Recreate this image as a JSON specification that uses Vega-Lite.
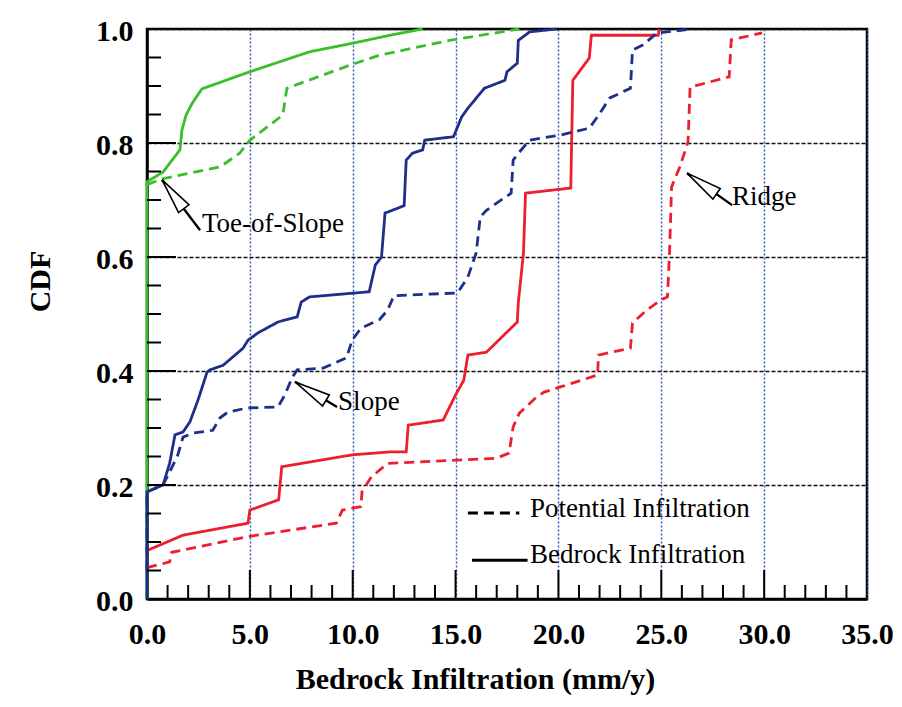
{
  "$schema": "https://vega.github.io/schema/vega-lite/v6.json",
  "width": 720,
  "height": 570,
  "autosize": {"type": "none"},
  "padding": {"left": 147, "top": 29, "right": 35, "bottom": 108},
  "background": "white",
  "config": {
    "view": {"stroke": "black", "strokeWidth": 2.5},
    "font": "Liberation Serif"
  },
  "datasets": {
    "curves": [
      {"site": "Toe-of-Slope", "type": "Bedrock", "x": 0, "y": 0},
      {"site": "Toe-of-Slope", "type": "Bedrock", "x": 0, "y": 0.732},
      {"site": "Toe-of-Slope", "type": "Bedrock", "x": 0.78, "y": 0.749},
      {"site": "Toe-of-Slope", "type": "Bedrock", "x": 1.6, "y": 0.788},
      {"site": "Toe-of-Slope", "type": "Bedrock", "x": 1.7, "y": 0.823},
      {"site": "Toe-of-Slope", "type": "Bedrock", "x": 1.9, "y": 0.849},
      {"site": "Toe-of-Slope", "type": "Bedrock", "x": 2.2, "y": 0.87},
      {"site": "Toe-of-Slope", "type": "Bedrock", "x": 2.67, "y": 0.895},
      {"site": "Toe-of-Slope", "type": "Bedrock", "x": 5.0, "y": 0.925},
      {"site": "Toe-of-Slope", "type": "Bedrock", "x": 7.9, "y": 0.96},
      {"site": "Toe-of-Slope", "type": "Bedrock", "x": 10.0, "y": 0.975},
      {"site": "Toe-of-Slope", "type": "Bedrock", "x": 11.8, "y": 0.989},
      {"site": "Toe-of-Slope", "type": "Bedrock", "x": 13.4, "y": 1.0},

      {"site": "Toe-of-Slope", "type": "Potential", "x": 0, "y": 0.727},
      {"site": "Toe-of-Slope", "type": "Potential", "x": 0.73, "y": 0.737},
      {"site": "Toe-of-Slope", "type": "Potential", "x": 3.55, "y": 0.758},
      {"site": "Toe-of-Slope", "type": "Potential", "x": 4.5, "y": 0.782},
      {"site": "Toe-of-Slope", "type": "Potential", "x": 5.0, "y": 0.805},
      {"site": "Toe-of-Slope", "type": "Potential", "x": 6.6, "y": 0.849},
      {"site": "Toe-of-Slope", "type": "Potential", "x": 6.8, "y": 0.896},
      {"site": "Toe-of-Slope", "type": "Potential", "x": 9.9, "y": 0.937},
      {"site": "Toe-of-Slope", "type": "Potential", "x": 11.3, "y": 0.954},
      {"site": "Toe-of-Slope", "type": "Potential", "x": 14.7, "y": 0.98},
      {"site": "Toe-of-Slope", "type": "Potential", "x": 18.1, "y": 1.0},

      {"site": "Ridge", "type": "Bedrock", "x": 0, "y": 0.085},
      {"site": "Ridge", "type": "Bedrock", "x": 1.75, "y": 0.112},
      {"site": "Ridge", "type": "Bedrock", "x": 4.91, "y": 0.133},
      {"site": "Ridge", "type": "Bedrock", "x": 5.0, "y": 0.156},
      {"site": "Ridge", "type": "Bedrock", "x": 6.4, "y": 0.174},
      {"site": "Ridge", "type": "Bedrock", "x": 6.55, "y": 0.232},
      {"site": "Ridge", "type": "Bedrock", "x": 10.0, "y": 0.253},
      {"site": "Ridge", "type": "Bedrock", "x": 11.8, "y": 0.258},
      {"site": "Ridge", "type": "Bedrock", "x": 12.6, "y": 0.258},
      {"site": "Ridge", "type": "Bedrock", "x": 12.7, "y": 0.305},
      {"site": "Ridge", "type": "Bedrock", "x": 14.4, "y": 0.314},
      {"site": "Ridge", "type": "Bedrock", "x": 15.0, "y": 0.358},
      {"site": "Ridge", "type": "Bedrock", "x": 15.4, "y": 0.384},
      {"site": "Ridge", "type": "Bedrock", "x": 15.6, "y": 0.428},
      {"site": "Ridge", "type": "Bedrock", "x": 16.5, "y": 0.433},
      {"site": "Ridge", "type": "Bedrock", "x": 18.0, "y": 0.486},
      {"site": "Ridge", "type": "Bedrock", "x": 18.05, "y": 0.52},
      {"site": "Ridge", "type": "Bedrock", "x": 18.3, "y": 0.607},
      {"site": "Ridge", "type": "Bedrock", "x": 18.4, "y": 0.712},
      {"site": "Ridge", "type": "Bedrock", "x": 20.6, "y": 0.721},
      {"site": "Ridge", "type": "Bedrock", "x": 20.7, "y": 0.91},
      {"site": "Ridge", "type": "Bedrock", "x": 21.5, "y": 0.949},
      {"site": "Ridge", "type": "Bedrock", "x": 21.6, "y": 0.989},
      {"site": "Ridge", "type": "Bedrock", "x": 24.85, "y": 0.989},
      {"site": "Ridge", "type": "Bedrock", "x": 24.9, "y": 1.0},

      {"site": "Ridge", "type": "Potential", "x": 0, "y": 0.055},
      {"site": "Ridge", "type": "Potential", "x": 1.1, "y": 0.065},
      {"site": "Ridge", "type": "Potential", "x": 1.2, "y": 0.082},
      {"site": "Ridge", "type": "Potential", "x": 5.0, "y": 0.11},
      {"site": "Ridge", "type": "Potential", "x": 9.2, "y": 0.133},
      {"site": "Ridge", "type": "Potential", "x": 9.5, "y": 0.156},
      {"site": "Ridge", "type": "Potential", "x": 10.4, "y": 0.162},
      {"site": "Ridge", "type": "Potential", "x": 10.45, "y": 0.188},
      {"site": "Ridge", "type": "Potential", "x": 10.9, "y": 0.214},
      {"site": "Ridge", "type": "Potential", "x": 11.7, "y": 0.238},
      {"site": "Ridge", "type": "Potential", "x": 17.0, "y": 0.247},
      {"site": "Ridge", "type": "Potential", "x": 17.6, "y": 0.256},
      {"site": "Ridge", "type": "Potential", "x": 17.8, "y": 0.302},
      {"site": "Ridge", "type": "Potential", "x": 18.1, "y": 0.326},
      {"site": "Ridge", "type": "Potential", "x": 18.9, "y": 0.353},
      {"site": "Ridge", "type": "Potential", "x": 19.3, "y": 0.363},
      {"site": "Ridge", "type": "Potential", "x": 20.1, "y": 0.372},
      {"site": "Ridge", "type": "Potential", "x": 21.9, "y": 0.393},
      {"site": "Ridge", "type": "Potential", "x": 21.95, "y": 0.428},
      {"site": "Ridge", "type": "Potential", "x": 23.5, "y": 0.44},
      {"site": "Ridge", "type": "Potential", "x": 23.6, "y": 0.484},
      {"site": "Ridge", "type": "Potential", "x": 24.3, "y": 0.507},
      {"site": "Ridge", "type": "Potential", "x": 25.0, "y": 0.525},
      {"site": "Ridge", "type": "Potential", "x": 25.3, "y": 0.53},
      {"site": "Ridge", "type": "Potential", "x": 25.4, "y": 0.607},
      {"site": "Ridge", "type": "Potential", "x": 25.5, "y": 0.723},
      {"site": "Ridge", "type": "Potential", "x": 25.9, "y": 0.758},
      {"site": "Ridge", "type": "Potential", "x": 26.3, "y": 0.802},
      {"site": "Ridge", "type": "Potential", "x": 26.4, "y": 0.898},
      {"site": "Ridge", "type": "Potential", "x": 28.3, "y": 0.916},
      {"site": "Ridge", "type": "Potential", "x": 28.4, "y": 0.981},
      {"site": "Ridge", "type": "Potential", "x": 29.9, "y": 0.993},

      {"site": "Slope", "type": "Bedrock", "x": 0, "y": 0.0},
      {"site": "Slope", "type": "Bedrock", "x": 0, "y": 0.188},
      {"site": "Slope", "type": "Bedrock", "x": 0.78, "y": 0.2},
      {"site": "Slope", "type": "Bedrock", "x": 1.1, "y": 0.238},
      {"site": "Slope", "type": "Bedrock", "x": 1.36, "y": 0.288},
      {"site": "Slope", "type": "Bedrock", "x": 1.75, "y": 0.293},
      {"site": "Slope", "type": "Bedrock", "x": 2.09, "y": 0.311},
      {"site": "Slope", "type": "Bedrock", "x": 2.48, "y": 0.349},
      {"site": "Slope", "type": "Bedrock", "x": 2.92, "y": 0.398},
      {"site": "Slope", "type": "Bedrock", "x": 3.06, "y": 0.402},
      {"site": "Slope", "type": "Bedrock", "x": 3.7, "y": 0.41},
      {"site": "Slope", "type": "Bedrock", "x": 4.67, "y": 0.44},
      {"site": "Slope", "type": "Bedrock", "x": 4.91, "y": 0.454},
      {"site": "Slope", "type": "Bedrock", "x": 5.4, "y": 0.467},
      {"site": "Slope", "type": "Bedrock", "x": 6.37, "y": 0.486},
      {"site": "Slope", "type": "Bedrock", "x": 7.3, "y": 0.495},
      {"site": "Slope", "type": "Bedrock", "x": 7.5, "y": 0.521},
      {"site": "Slope", "type": "Bedrock", "x": 7.9, "y": 0.53},
      {"site": "Slope", "type": "Bedrock", "x": 10.8, "y": 0.539},
      {"site": "Slope", "type": "Bedrock", "x": 11.1, "y": 0.586},
      {"site": "Slope", "type": "Bedrock", "x": 11.4, "y": 0.6},
      {"site": "Slope", "type": "Bedrock", "x": 11.57, "y": 0.677},
      {"site": "Slope", "type": "Bedrock", "x": 12.5, "y": 0.69},
      {"site": "Slope", "type": "Bedrock", "x": 12.6, "y": 0.77},
      {"site": "Slope", "type": "Bedrock", "x": 12.9, "y": 0.782},
      {"site": "Slope", "type": "Bedrock", "x": 13.4, "y": 0.788},
      {"site": "Slope", "type": "Bedrock", "x": 13.5, "y": 0.805},
      {"site": "Slope", "type": "Bedrock", "x": 14.9, "y": 0.811},
      {"site": "Slope", "type": "Bedrock", "x": 15.3, "y": 0.846},
      {"site": "Slope", "type": "Bedrock", "x": 15.6, "y": 0.861},
      {"site": "Slope", "type": "Bedrock", "x": 16.4, "y": 0.896},
      {"site": "Slope", "type": "Bedrock", "x": 17.4, "y": 0.91},
      {"site": "Slope", "type": "Bedrock", "x": 17.5, "y": 0.925},
      {"site": "Slope", "type": "Bedrock", "x": 18.0, "y": 0.94},
      {"site": "Slope", "type": "Bedrock", "x": 18.05, "y": 0.98},
      {"site": "Slope", "type": "Bedrock", "x": 18.6, "y": 0.995},
      {"site": "Slope", "type": "Bedrock", "x": 19.9, "y": 1.0},

      {"site": "Slope", "type": "Potential", "x": 0, "y": 0.05},
      {"site": "Slope", "type": "Potential", "x": 0, "y": 0.188},
      {"site": "Slope", "type": "Potential", "x": 0.78, "y": 0.2},
      {"site": "Slope", "type": "Potential", "x": 1.2, "y": 0.23},
      {"site": "Slope", "type": "Potential", "x": 1.5, "y": 0.253},
      {"site": "Slope", "type": "Potential", "x": 1.75, "y": 0.284},
      {"site": "Slope", "type": "Potential", "x": 2.24, "y": 0.291},
      {"site": "Slope", "type": "Potential", "x": 3.2, "y": 0.296},
      {"site": "Slope", "type": "Potential", "x": 3.55, "y": 0.318},
      {"site": "Slope", "type": "Potential", "x": 3.94, "y": 0.328},
      {"site": "Slope", "type": "Potential", "x": 4.86, "y": 0.335},
      {"site": "Slope", "type": "Potential", "x": 6.37, "y": 0.337},
      {"site": "Slope", "type": "Potential", "x": 6.7, "y": 0.358},
      {"site": "Slope", "type": "Potential", "x": 7.05, "y": 0.388},
      {"site": "Slope", "type": "Potential", "x": 7.3, "y": 0.402},
      {"site": "Slope", "type": "Potential", "x": 8.56, "y": 0.405},
      {"site": "Slope", "type": "Potential", "x": 9.7, "y": 0.423},
      {"site": "Slope", "type": "Potential", "x": 9.97, "y": 0.454},
      {"site": "Slope", "type": "Potential", "x": 10.4, "y": 0.475},
      {"site": "Slope", "type": "Potential", "x": 11.3, "y": 0.49},
      {"site": "Slope", "type": "Potential", "x": 11.7, "y": 0.507},
      {"site": "Slope", "type": "Potential", "x": 12.0, "y": 0.532},
      {"site": "Slope", "type": "Potential", "x": 15.1, "y": 0.537},
      {"site": "Slope", "type": "Potential", "x": 15.6, "y": 0.565},
      {"site": "Slope", "type": "Potential", "x": 16.0, "y": 0.607},
      {"site": "Slope", "type": "Potential", "x": 16.2, "y": 0.67},
      {"site": "Slope", "type": "Potential", "x": 16.5, "y": 0.682},
      {"site": "Slope", "type": "Potential", "x": 17.7, "y": 0.712},
      {"site": "Slope", "type": "Potential", "x": 17.8, "y": 0.77},
      {"site": "Slope", "type": "Potential", "x": 18.1, "y": 0.784},
      {"site": "Slope", "type": "Potential", "x": 18.6, "y": 0.805},
      {"site": "Slope", "type": "Potential", "x": 20.1, "y": 0.814},
      {"site": "Slope", "type": "Potential", "x": 21.5, "y": 0.826},
      {"site": "Slope", "type": "Potential", "x": 21.9, "y": 0.846},
      {"site": "Slope", "type": "Potential", "x": 22.5, "y": 0.879},
      {"site": "Slope", "type": "Potential", "x": 23.5, "y": 0.896},
      {"site": "Slope", "type": "Potential", "x": 23.6, "y": 0.963},
      {"site": "Slope", "type": "Potential", "x": 24.1, "y": 0.972},
      {"site": "Slope", "type": "Potential", "x": 24.8, "y": 0.993},
      {"site": "Slope", "type": "Potential", "x": 26.5, "y": 1.0}
    ],
    "labels": [
      {"text": "Toe-of-Slope", "x": 2.67, "y": 0.644},
      {"text": "Slope", "x": 9.29, "y": 0.332},
      {"text": "Ridge", "x": 28.44, "y": 0.691},
      {"text": "Potential Infiltration", "x": 18.62, "y": 0.144},
      {"text": "Bedrock Infiltration", "x": 18.62, "y": 0.063}
    ],
    "legendLines": [
      {"type": "Potential", "x": 15.6, "x2": 18.1, "y": 0.151},
      {"type": "Bedrock", "x": 15.8, "x2": 18.5, "y": 0.068}
    ],
    "arrows": [
      {"label": "Toe-of-Slope", "tipX": 0.73, "tipY": 0.735, "tailX": 2.58, "tailY": 0.647, "headX": 1.26, "headY": 0.71},
      {"label": "Slope", "tipX": 7.19, "tipY": 0.381, "tailX": 9.24, "tailY": 0.337, "headX": 7.95, "headY": 0.3646},
      {"label": "Ridge", "tipX": 26.25, "tipY": 0.747, "tailX": 28.44, "tailY": 0.691, "headX": 26.97, "headY": 0.729}
    ],
    "xTicks": [
      {"xt": 1, "kind": "minor"}, {"xt": 2, "kind": "minor"}, {"xt": 3, "kind": "minor"}, {"xt": 4, "kind": "minor"},
      {"xt": 5, "kind": "major"},
      {"xt": 6, "kind": "minor"}, {"xt": 7, "kind": "minor"}, {"xt": 8, "kind": "minor"}, {"xt": 9, "kind": "minor"},
      {"xt": 10, "kind": "major"},
      {"xt": 11, "kind": "minor"}, {"xt": 12, "kind": "minor"}, {"xt": 13, "kind": "minor"}, {"xt": 14, "kind": "minor"},
      {"xt": 15, "kind": "major"},
      {"xt": 16, "kind": "minor"}, {"xt": 17, "kind": "minor"}, {"xt": 18, "kind": "minor"}, {"xt": 19, "kind": "minor"},
      {"xt": 20, "kind": "major"},
      {"xt": 21, "kind": "minor"}, {"xt": 22, "kind": "minor"}, {"xt": 23, "kind": "minor"}, {"xt": 24, "kind": "minor"},
      {"xt": 25, "kind": "major"},
      {"xt": 26, "kind": "minor"}, {"xt": 27, "kind": "minor"}, {"xt": 28, "kind": "minor"}, {"xt": 29, "kind": "minor"},
      {"xt": 30, "kind": "major"},
      {"xt": 31, "kind": "minor"}, {"xt": 32, "kind": "minor"}, {"xt": 33, "kind": "minor"}, {"xt": 34, "kind": "minor"}
    ],
    "yTicks": [
      {"yt": 0.05, "kind": "minor"}, {"yt": 0.1, "kind": "minor"}, {"yt": 0.15, "kind": "minor"},
      {"yt": 0.2, "kind": "major"},
      {"yt": 0.25, "kind": "minor"}, {"yt": 0.3, "kind": "minor"}, {"yt": 0.35, "kind": "minor"},
      {"yt": 0.4, "kind": "major"},
      {"yt": 0.45, "kind": "minor"}, {"yt": 0.5, "kind": "minor"}, {"yt": 0.55, "kind": "minor"},
      {"yt": 0.6, "kind": "major"},
      {"yt": 0.65, "kind": "minor"}, {"yt": 0.7, "kind": "minor"}, {"yt": 0.75, "kind": "minor"},
      {"yt": 0.8, "kind": "major"},
      {"yt": 0.85, "kind": "minor"}, {"yt": 0.9, "kind": "minor"}, {"yt": 0.95, "kind": "minor"}
    ]
  },
  "layer": [
    {
      "data": {"name": "curves"},
      "mark": {"type": "line", "strokeWidth": 2.8, "clip": false},
      "encoding": {
        "x": {
          "field": "x", "type": "quantitative",
          "scale": {"domain": [0, 35], "nice": false, "zero": false},
          "axis": {
            "orient": "bottom", "zindex": 0,
            "values": [0, 5, 10, 15, 20, 25, 30, 35], "format": ".1f",
            "labelFont": "Liberation Serif", "labelFontSize": 30, "labelFontWeight": "bold", "labelColor": "black",
            "labelPadding": 20, "labelFlush": false, "labelOverlap": false, "labelBound": false,
            "ticks": false, "domain": true, "domainColor": "black", "domainWidth": 2.5,
            "grid": true, "gridColor": "#2f55b8", "gridDash": [2, 2], "gridWidth": 1.4, "gridOpacity": 1,
            "title": "Bedrock Infiltration (mm/y)",
            "titleFont": "Liberation Serif", "titleFontSize": 30, "titleFontWeight": "bold", "titleColor": "black",
            "titleX": 328, "titleY": 89, "titleAlign": "center", "titleBaseline": "alphabetic"
          }
        },
        "y": {
          "field": "y", "type": "quantitative",
          "scale": {"domain": [0, 1], "nice": false, "zero": false},
          "axis": {
            "orient": "left", "zindex": 0,
            "values": [0, 0.2, 0.4, 0.6, 0.8, 1.0], "format": ".1f",
            "labelFont": "Liberation Serif", "labelFontSize": 30, "labelFontWeight": "bold", "labelColor": "black",
            "labelPadding": 14, "labelOffset": 2, "labelFlush": false, "labelOverlap": false, "labelBound": false,
            "ticks": false, "domain": true, "domainColor": "black", "domainWidth": 2.5,
            "grid": true, "gridColor": "#111111", "gridDash": [4, 2], "gridWidth": 1.3, "gridOpacity": 1,
            "title": "CDF",
            "titleFont": "Liberation Serif", "titleFontSize": 30, "titleFontWeight": "bold", "titleColor": "black",
            "titleX": -107, "titleY": 252, "titleAngle": 270, "titleAlign": "center", "titleBaseline": "middle"
          }
        },
        "order": {"field": "x", "type": "quantitative"},
        "detail": {"field": "type"},
        "color": {
          "field": "site", "type": "nominal",
          "scale": {"domain": ["Toe-of-Slope", "Ridge", "Slope"], "range": ["#3cbd2c", "#ec1f2e", "#1d2f8a"]},
          "legend": null
        },
        "strokeDash": {
          "field": "type", "type": "nominal",
          "scale": {"domain": ["Potential", "Bedrock"], "range": [[10, 6], [1, 0]]},
          "legend": null
        }
      }
    },
    {
      "data": {"name": "legendLines"},
      "mark": {"type": "rule", "color": "black", "strokeWidth": 3},
      "encoding": {
        "x": {"field": "x", "type": "quantitative"},
        "x2": {"field": "x2"},
        "y": {"field": "y", "type": "quantitative"},
        "strokeDash": {"field": "type", "type": "nominal", "legend": null}
      }
    },
    {
      "data": {"name": "labels"},
      "mark": {"type": "text", "align": "left", "baseline": "alphabetic", "font": "Liberation Serif", "fontSize": 27, "color": "black"},
      "encoding": {
        "x": {"field": "x", "type": "quantitative"},
        "y": {"field": "y", "type": "quantitative"},
        "text": {"field": "text"}
      }
    },
    {
      "data": {"name": "arrows"},
      "mark": {"type": "rule", "color": "black", "strokeWidth": 2.4},
      "encoding": {
        "x": {"field": "tipX", "type": "quantitative"},
        "x2": {"field": "tailX"},
        "y": {"field": "tipY", "type": "quantitative"},
        "y2": {"field": "tailY"}
      }
    },
    {
      "data": {"name": "arrows"},
      "transform": [{"filter": "datum.label === 'Toe-of-Slope'"}],
      "mark": {"type": "point", "shape": "M0,-1L0.36,1L-0.36,1Z", "size": 1296, "angle": 323, "filled": true, "fill": "white", "stroke": "black", "strokeWidth": 1.6, "opacity": 1},
      "encoding": {
        "x": {"field": "headX", "type": "quantitative"},
        "y": {"field": "headY", "type": "quantitative"}
      }
    },
    {
      "data": {"name": "arrows"},
      "transform": [{"filter": "datum.label === 'Slope'"}],
      "mark": {"type": "point", "shape": "M0,-1L0.36,1L-0.36,1Z", "size": 1296, "angle": 301, "filled": true, "fill": "white", "stroke": "black", "strokeWidth": 1.6, "opacity": 1},
      "encoding": {
        "x": {"field": "headX", "type": "quantitative"},
        "y": {"field": "headY", "type": "quantitative"}
      }
    },
    {
      "data": {"name": "arrows"},
      "transform": [{"filter": "datum.label === 'Ridge'"}],
      "mark": {"type": "point", "shape": "M0,-1L0.36,1L-0.36,1Z", "size": 1296, "angle": 305, "filled": true, "fill": "white", "stroke": "black", "strokeWidth": 1.6, "opacity": 1},
      "encoding": {
        "x": {"field": "headX", "type": "quantitative"},
        "y": {"field": "headY", "type": "quantitative"}
      }
    },
    {
      "data": {"name": "xTicks"},
      "mark": {"type": "tick", "orient": "vertical", "thickness": 2, "color": "black", "opacity": 1, "clip": true},
      "encoding": {
        "x": {"field": "xt", "type": "quantitative"},
        "y": {"datum": 0},
        "size": {"field": "kind", "type": "ordinal", "scale": {"domain": ["minor", "major"], "range": [28, 58]}, "legend": null}
      }
    },
    {
      "data": {"name": "yTicks"},
      "mark": {"type": "tick", "orient": "horizontal", "thickness": 2, "color": "black", "opacity": 1, "clip": true},
      "encoding": {
        "y": {"field": "yt", "type": "quantitative"},
        "x": {"datum": 0},
        "size": {"field": "kind", "type": "ordinal", "scale": {"domain": ["minor", "major"], "range": [28, 40]}, "legend": null}
      }
    }
  ]
}
